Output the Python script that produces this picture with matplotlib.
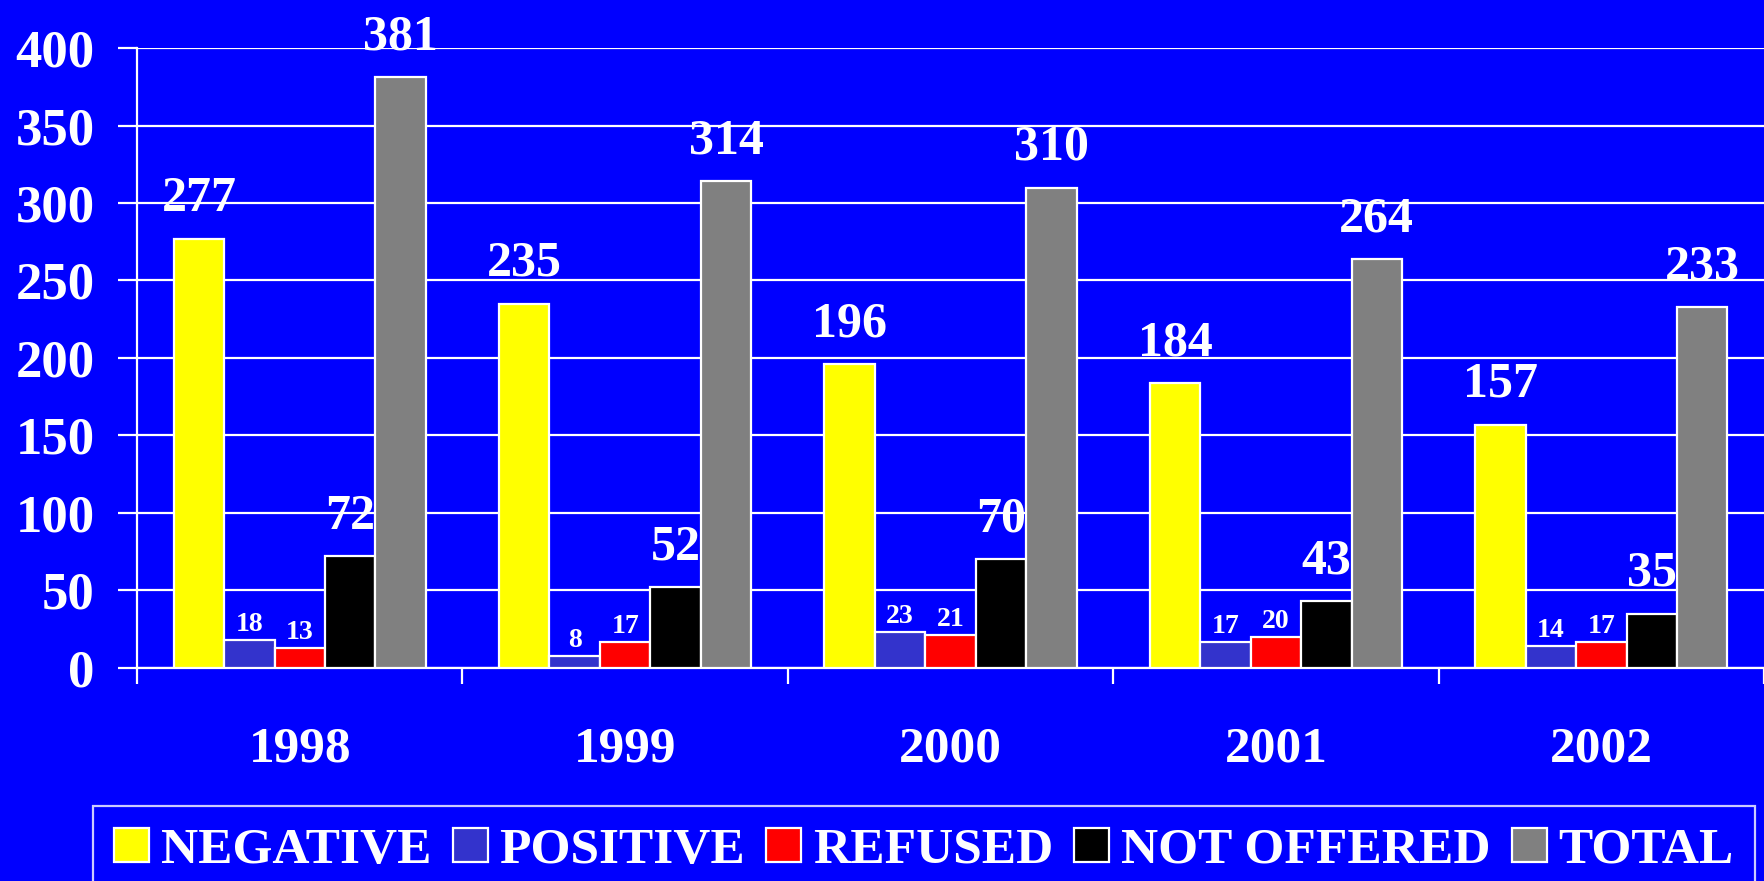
import numpy as np
import matplotlib.pyplot as plt

years = ['1998', '1999', '2000', '2001', '2002']
negative = [277, 235, 196, 184, 157]
positive = [18, 8, 23, 17, 14]
refused = [13, 17, 21, 20, 17]
not_offered = [72, 52, 70, 43, 35]
total = [381, 314, 310, 264, 233]

series_names = ['NEGATIVE', 'POSITIVE', 'REFUSED', 'NOT OFFERED', 'TOTAL']
series_values = [negative, positive, refused, not_offered, total]
series_colors = ['#FFFF00', '#3333CC', '#FF0000', '#000000', '#808080']
big_label = [True, False, False, True, True]

plt.rcParams['font.family'] = ['Liberation Serif', 'DejaVu Serif']
plt.rcParams['font.weight'] = 'bold'

bg = '#0000FF'
fig = plt.figure(figsize=(17.64, 8.81), dpi=100, facecolor=bg)
ax = fig.add_axes([0.0777, 0.2418, 0.9223, 0.7037], facecolor=bg)

x = np.arange(len(years))
w = 0.155

# bars with value labels
for i, (name, vals, col) in enumerate(zip(series_names, series_values, series_colors)):
    pos = x + (i - 2) * w
    ax.bar(pos, vals, w, color=col, edgecolor='white', linewidth=1.6, label=name, zorder=3)
    for px, v in zip(pos, vals):
        if big_label[i]:
            ax.annotate(str(v), (px, v), xytext=(0, 20), textcoords='offset points',
                        ha='center', va='baseline', color='white', fontsize=36,
                        fontweight='bold', zorder=2)
        else:
            ax.annotate(str(v), (px, v), xytext=(0, 6.5), textcoords='offset points',
                        ha='center', va='baseline', color='white', fontsize=20,
                        fontweight='bold', zorder=4)

ax.set_xlim(-0.5, len(years) - 0.5)
ax.set_ylim(0, 400)
ax.set_yticks(np.arange(0, 401, 50))

# ticks at group edges, labels at centers
ax.set_xticks(np.arange(-0.5, len(years), 1.0))
ax.set_xticklabels([])
ax.set_xticks(x, minor=True)
ax.set_xticklabels(years, minor=True)
ax.tick_params(axis='x', which='major', length=11.5, width=1.6, color='white', direction='out')
ax.tick_params(axis='x', which='minor', length=0, pad=42, labelsize=37, labelcolor='white')
ax.tick_params(axis='y', length=13.5, width=1.6, color='white', pad=17, labelsize=38,
               labelcolor='white')

ax.grid(axis='y', color='white', linewidth=1.6, zorder=0)
ax.set_axisbelow(True)
for s in ['top', 'right']:
    ax.spines[s].set_visible(False)
for s in ['left', 'bottom']:
    ax.spines[s].set_color('white')
    ax.spines[s].set_linewidth(1.6)

leg = fig.legend(loc='upper center', bbox_to_anchor=(0.5238, 0.085), ncol=5,
                 frameon=True, fancybox=False, facecolor=bg, edgecolor='white',
                 fontsize=37, handlelength=0.68, handleheight=0.65,
                 handletextpad=0.23, columnspacing=0.41, borderpad=0.42,
                 borderaxespad=0)
leg.get_frame().set_linewidth(1.6)
for t in leg.get_texts():
    t.set_color('white')

fig.savefig('out.png', dpi=100, facecolor=bg)
